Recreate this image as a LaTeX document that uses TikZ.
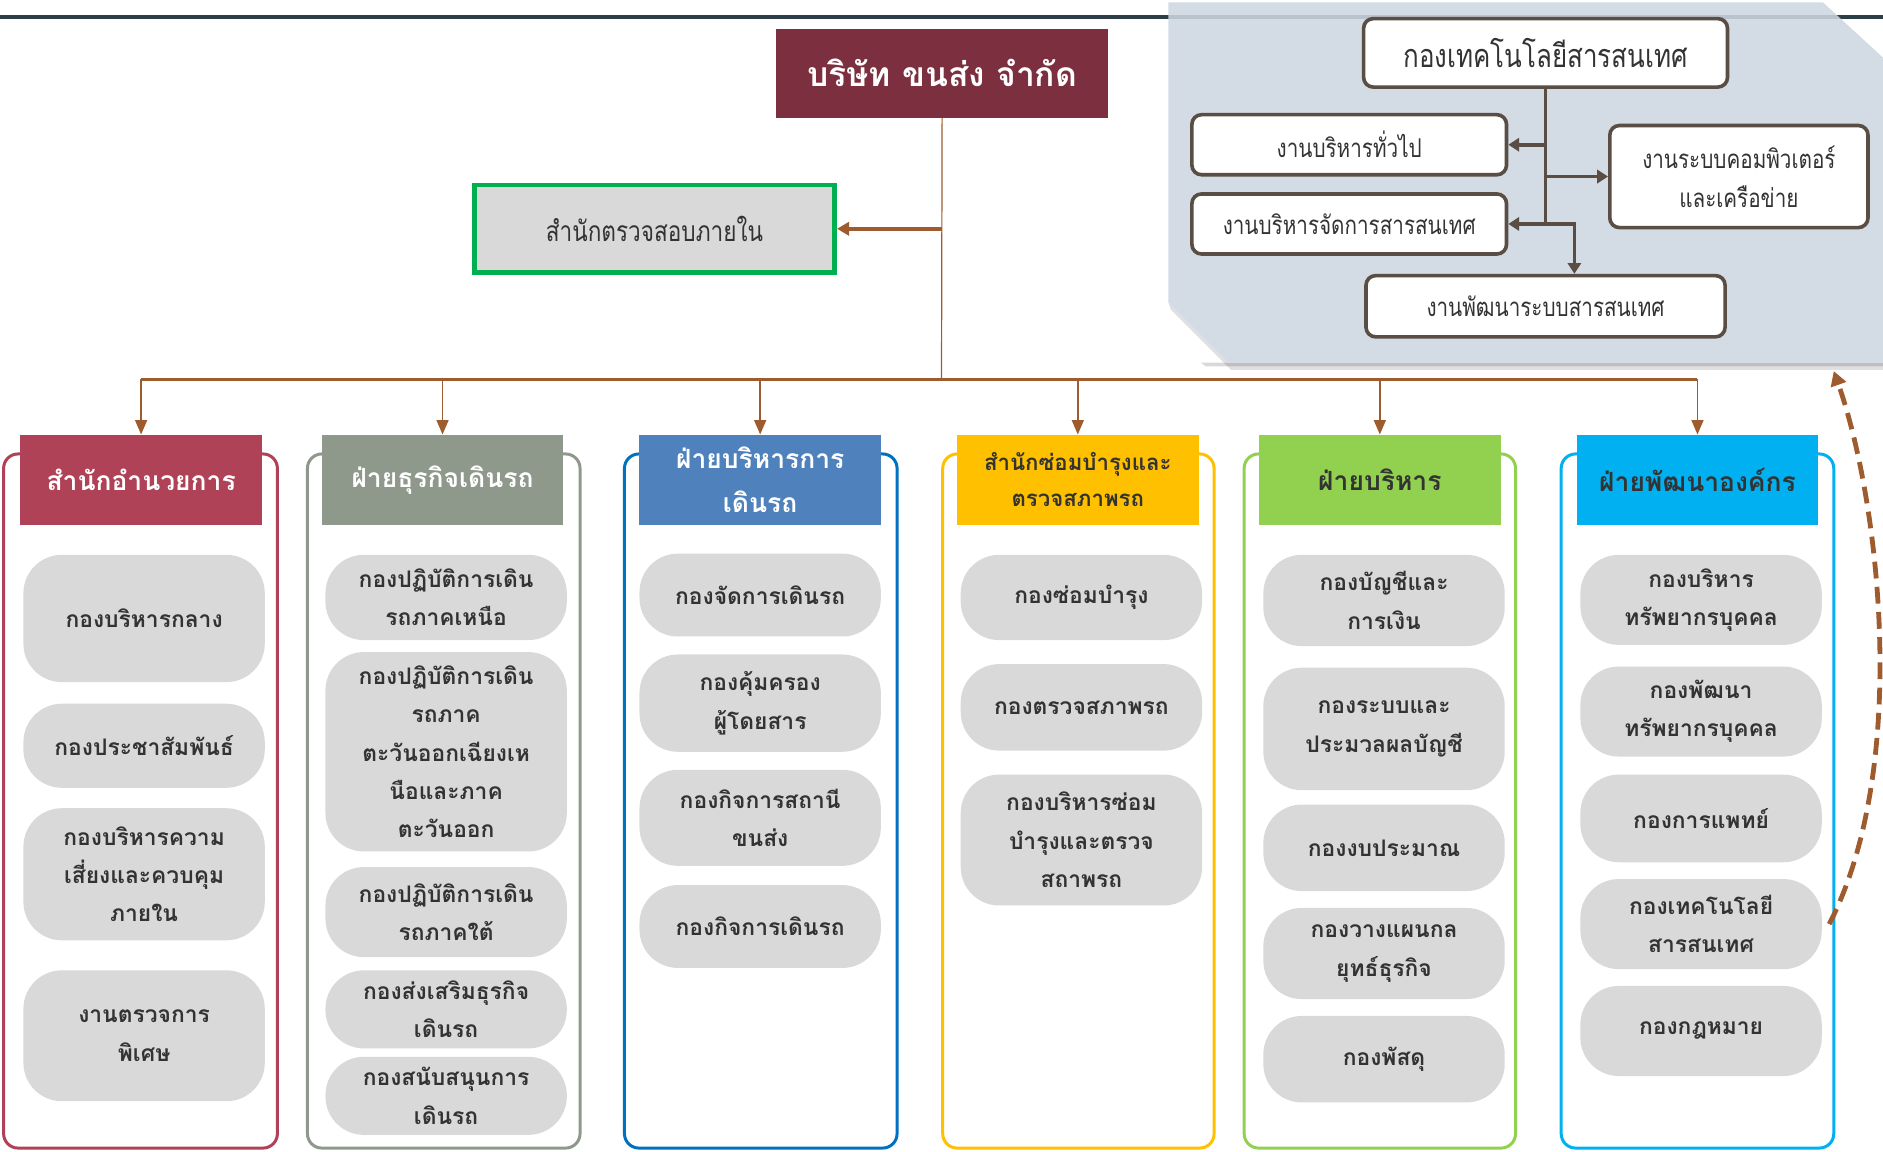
\documentclass[tikz,border=0pt]{standalone}
\usepackage{fontspec}
\setmainfont{Loma}[Script=Thai]
\newfontfamily\narrowthai{Loma}[Script=Thai, FakeStretch=0.8]
\usetikzlibrary{arrows.meta}

\definecolor{company}{RGB}{123,47,63}
\definecolor{auditgreen}{RGB}{0,176,80}
\definecolor{pillgray}{RGB}{217,217,217}
\definecolor{textgray}{RGB}{51,51,51}
\definecolor{bronze}{RGB}{158,92,46}
\definecolor{topline}{RGB}{46,62,72}
\definecolor{panelgray}{RGB}{205,214,224}
\definecolor{itline}{RGB}{90,78,68}
\definecolor{headred}{RGB}{176,66,88}
\definecolor{headsage}{RGB}{142,153,140}
\definecolor{headblue}{RGB}{79,129,189}
\definecolor{frameblue}{RGB}{0,112,192}
\definecolor{headgold}{RGB}{255,192,0}
\definecolor{headlime}{RGB}{146,208,80}
\definecolor{headcyan}{RGB}{0,176,240}

\begin{document}
\begin{tikzpicture}
  [x=1pt, y=-1pt,
    TopBox/.style={rectangle, fill=company, text=white, minimum width=277pt, minimum height=74pt, font=\bfseries\fontsize{28}{34}\selectfont},
    AuditBox/.style={rectangle, draw=auditgreen, line width=4pt, fill=pillgray, minimum width=300pt, minimum height=73pt, text=textgray, font=\narrowthai\fontsize{23.5}{28}\selectfont},
    ITBox/.style={rectangle, rounded corners=8pt, draw=itline, line width=3pt, fill=white, align=center, inner sep=0pt, text=textgray, font=\narrowthai\fontsize{21.5}{32}\selectfont},
    HeadBox/.style={rectangle, minimum width=201pt, minimum height=75pt, inner sep=0pt, align=center, font=\bfseries\fontsize{22}{36}\selectfont},
    ColFrame/.style={rounded corners=12pt, line width=2.5pt, fill=white},
    PillNode/.style={rectangle, rounded corners=32pt, fill=pillgray, minimum width=201pt, inner sep=0pt, align=center, text=textgray, font=\bfseries\fontsize{19}{32}\selectfont},
    Feed/.style={bronze, line width=1.2pt, -{Triangle[width=10pt,length=12pt]}},
    ITLink/.style={itline, line width=3pt, -{Triangle[width=11pt,length=9pt]}}]

  \useasboundingbox (0,0) rectangle (1568,959);

  \draw[topline, line width=3.5pt] (0,14) -- (1568,14);

  % IT division panel
  \fill[black, opacity=.12] (975,258) -- (1025,308) -- (1568,308) -- (1568,302) -- (1023,302) -- (973,252) -- cycle;
  \fill[black, opacity=.15] (1000,302) -- (1568,302) -- (1568,305) -- (1004,305) -- cycle;
  \fill[panelgray, fill opacity=.88] (973,2) -- (1518,2) -- (1568,48) -- (1568,302) -- (1023,302) -- (973,252) -- cycle;
  \coordinate (panelfoot) at (1527,309);

  \node[ITBox, minimum width=303pt, minimum height=57pt, font=\narrowthai\fontsize{27}{30}\selectfont] (itmain) at (1287,44) {กองเทคโนโลยีสารสนเทศ};
  \node[ITBox, minimum width=262pt, minimum height=50pt] (itgen) at (1123.5,120.5) {งานบริหารทั่วไป};
  \node[ITBox, minimum width=262pt, minimum height=50pt] (itinfo) at (1123.5,186.5) {งานบริหารจัดการสารสนเทศ};
  \node[ITBox, minimum width=215pt, minimum height=85pt] (itnet) at (1448,147) {งานระบบคอมพิวเตอร์\\และเครือข่าย};
  \node[ITBox, minimum width=299pt, minimum height=51pt] (itdev) at (1287,255) {งานพัฒนาระบบสารสนเทศ};

  \draw[itline, line width=3pt] (itmain.south) -- (itmain.south |- itinfo.east);
  \draw[ITLink] (itmain.south |- itgen.east) -- (itgen.east);
  \draw[ITLink] (itmain.south |- itnet.west) -- (itnet.west);
  \draw[ITLink] (itmain.south |- itinfo.east) -- (itinfo.east);
  \draw[ITLink] (itmain.south |- itinfo.east) -| ([xshift=24pt]itdev.north);

  % top of the company
  \node[TopBox] (company) at (784.5,61) {บริษัท ขนส่ง จำกัด};
  \node[AuditBox] (audit) at (545,190.5) {สำนักตรวจสอบภายใน};
  \coordinate (bus) at (784,316);

  % column frames
  \draw[ColFrame, draw=headred] (3,378) rectangle (231,956);
  \draw[ColFrame, draw=headsage] (256,378) rectangle (483,956);
  \draw[ColFrame, draw=frameblue] (520,378) rectangle (747,956);
  \draw[ColFrame, draw=headgold] (785,378) rectangle (1011,956);
  \draw[ColFrame, draw=headlime] (1036,378) rectangle (1262,956);
  \draw[ColFrame, draw=headcyan] (1300,378) rectangle (1527,956);

  \node[HeadBox, fill=headred, text=white] (h1) at (117.5,399.5) {สำนักอำนวยการ};
  \node[HeadBox, fill=headsage, text=white] (h2) at (368.5,399.5) {ฝ่ายธุรกิจเดินรถ};
  \node[HeadBox, fill=headblue, text=white] (h3) at (633,399.5) {ฝ่ายบริหารการ\\เดินรถ};
  \node[HeadBox, fill=headgold, text=textgray, font=\bfseries\fontsize{18.5}{30}\selectfont] (h4) at (897.5,399.5) {สำนักซ่อมบำรุงและ\\ตรวจสภาพรถ};
  \node[HeadBox, fill=headlime, text=textgray] (h5) at (1149,399.5) {ฝ่ายบริหาร};
  \node[HeadBox, fill=headcyan, text=textgray] (h6) at (1413.5,399.5) {ฝ่ายพัฒนาองค์กร};

  \node[PillNode, minimum height=106pt] (a1) at (120,515) {กองบริหารกลาง};
  \node[PillNode, minimum height=70pt] (a2) at (120,621) {กองประชาสัมพันธ์};
  \node[PillNode, minimum height=110pt] (a3) at (120,728) {กองบริหารความ\\เสี่ยงและควบคุม\\ภายใน};
  \node[PillNode, minimum height=109pt] (a4) at (120,862.5) {งานตรวจการ\\พิเศษ};

  \node[PillNode, minimum height=71pt] (b1) at (371.5,497.5) {กองปฏิบัติการเดิน\\รถภาคเหนือ};
  \node[PillNode, minimum height=166pt] (b2) at (371.5,626) {กองปฏิบัติการเดิน\\รถภาค\\ตะวันออกเฉียงเห\\นือและภาค\\ตะวันออก};
  \node[PillNode, minimum height=75pt] (b3) at (371.5,759.5) {กองปฏิบัติการเดิน\\รถภาคใต้};
  \node[PillNode, minimum height=65pt] (b4) at (371.5,840.5) {กองส่งเสริมธุรกิจ\\เดินรถ};
  \node[PillNode, minimum height=65pt] (b5) at (371.5,912.5) {กองสนับสนุนการ\\เดินรถ};

  \node[PillNode, minimum height=69pt] (c1) at (633,495.5) {กองจัดการเดินรถ};
  \node[PillNode, minimum height=81pt] (c2) at (633,585.5) {กองคุ้มครอง\\ผู้โดยสาร};
  \node[PillNode, minimum height=80pt] (c3) at (633,681) {กองกิจการสถานี\\ขนส่ง};
  \node[PillNode, minimum height=69pt] (c4) at (633,771.5) {กองกิจการเดินรถ};

  \node[PillNode, minimum height=71pt] (d1) at (900.5,497.5) {กองซ่อมบำรุง};
  \node[PillNode, minimum height=72pt] (d2) at (900.5,589) {กองตรวจสภาพรถ};
  \node[PillNode, minimum height=109pt] (d3) at (900.5,699.5) {กองบริหารซ่อม\\บำรุงและตรวจ\\สถาพรถ};

  \node[PillNode, minimum height=76pt] (e1) at (1152.5,500) {กองบัญชีและ\\การเงิน};
  \node[PillNode, minimum height=102pt] (e2) at (1152.5,607) {กองระบบและ\\ประมวลผลบัญชี};
  \node[PillNode, minimum height=72pt] (e3) at (1152.5,706) {กองงบประมาณ};
  \node[PillNode, minimum height=76pt] (e4) at (1152.5,794) {กองวางแผนกล\\ยุทธ์ธุรกิจ};
  \node[PillNode, minimum height=72pt] (e5) at (1152.5,882) {กองพัสดุ};

  \node[PillNode, minimum height=75pt] (f1) at (1416.5,499.5) {กองบริหาร\\ทรัพยากรบุคคล};
  \node[PillNode, minimum height=75pt] (f2) at (1416.5,592.5) {กองพัฒนา\\ทรัพยากรบุคคล};
  \node[PillNode, minimum height=73pt] (f3) at (1416.5,681.5) {กองการแพทย์};
  \node[PillNode, minimum height=75pt] (f4) at (1416.5,769.5) {กองเทคโนโลยี\\สารสนเทศ};
  \node[PillNode, minimum height=75pt] (f5) at (1416.5,858.5) {กองกฎหมาย};

  % connectors
  \draw[bronze, line width=1pt] (company.south) -- (bus);
  \draw[bronze, line width=3pt, -{Triangle[width=11pt,length=10pt]}] (company.south |- audit.east) -- (audit.east);
  \draw[bronze, line width=1.8pt] (h1.north |- bus) -- (h6.north |- bus);
  \draw[Feed] (h1.north |- bus) -- (h1.north);
  \draw[Feed] (h2.north |- bus) -- (h2.north);
  \draw[Feed] (h3.north |- bus) -- (h3.north);
  \draw[Feed] (h4.north |- bus) -- (h4.north);
  \draw[Feed] (h5.north |- bus) -- (h5.north);
  \draw[Feed] (h6.north |- bus) -- (h6.north);

  \draw[bronze, line width=4pt, dash pattern=on 14pt off 7pt, -{Triangle[width=13pt,length=12pt]}] ([xshift=6pt]f4.east) .. controls (1590,640) and (1566,420) .. (panelfoot);
\end{tikzpicture}
\end{document}
